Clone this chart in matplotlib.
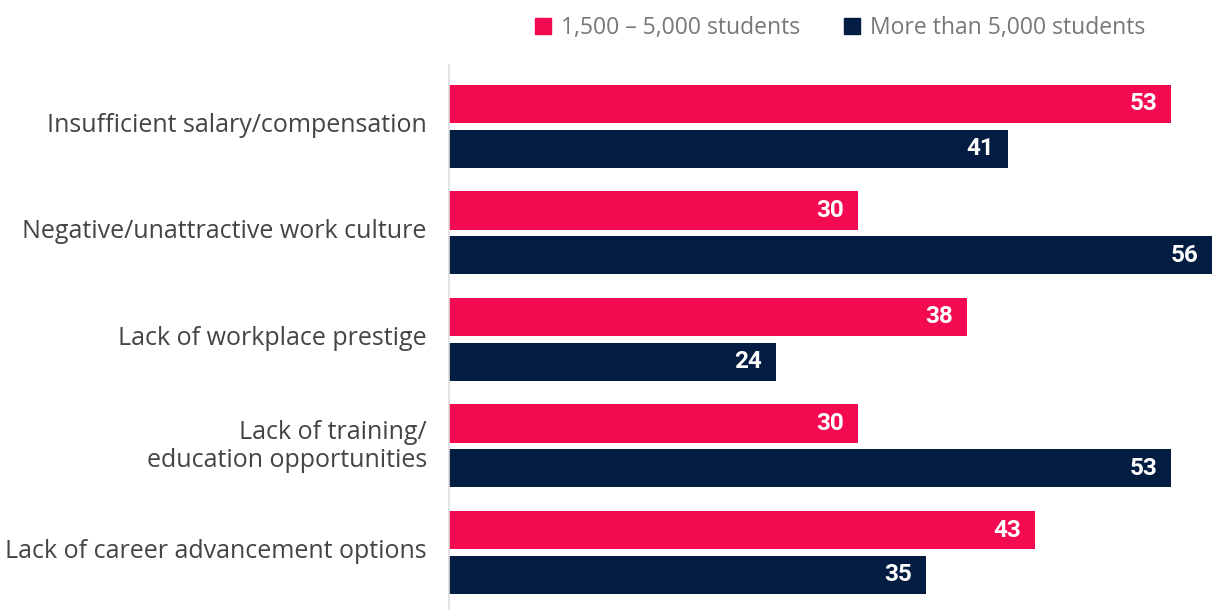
import matplotlib.pyplot as plt
import matplotlib.transforms as mtransforms
from matplotlib.patches import Patch

# reasons for leaving, % of respondents, by institution size
categories = [
    "Insufficient salary/compensation",
    "Negative/unattractive work culture",
    "Lack of workplace prestige",
    "Lack of training/\neducation opportunities",
    "Lack of career advancement options",
]
small_inst = [53, 30, 38, 30, 43]
large_inst = [41, 56, 24, 53, 35]
series_names = ["1,500 – 5,000 students", "More than 5,000 students"]

PINK = "#F40A51"
NAVY = "#021C42"

plt.rcParams["font.family"] = ["Open Sans", "DejaVu Sans"]

fig = plt.figure(figsize=(12.22, 6.10), dpi=100)
ax = fig.add_axes([449 / 1222, 0.0, 773 / 1222, 545 / 610])

bar_h = 0.357
offset = 0.211
ypos = list(range(len(categories)))

bars_a = ax.barh([y - offset for y in ypos], small_inst, height=bar_h, color=PINK)
bars_b = ax.barh([y + offset for y in ypos], large_inst, height=bar_h, color=NAVY)

for bars, vals in ((bars_a, small_inst), (bars_b, large_inst)):
    for rect, v in zip(bars, vals):
        ax.annotate(str(v), xy=(v, rect.get_y() + rect.get_height() / 2),
                    xytext=(-10, 0), textcoords="offset points",
                    ha="right", va="center", color="white",
                    fontsize=17.5, fontweight="bold",
                    family=["Roboto", "DejaVu Sans"])

ax.set_xlim(0, 773 / 13.625)
ax.set_ylim(4.54, -0.577)
ax.set_yticks(ypos)
ax.tick_params(axis="y", length=0, pad=16)
ax.set_yticklabels(categories, fontsize=18, color="#444444", linespacing=1.18)
# nudge category labels up a little
shift = mtransforms.ScaledTranslation(0, 3 / 72, fig.dpi_scale_trans)
for lbl in ax.get_yticklabels():
    lbl.set_transform(lbl.get_transform() + shift)
ax.set_xticks([])
for side in ("top", "right", "bottom"):
    ax.spines[side].set_visible(False)
ax.spines["left"].set_color("#DDDDDD")
ax.spines["left"].set_linewidth(1.2)

handles = [Patch(color=PINK), Patch(color=NAVY)]
leg = fig.legend(handles, series_names, ncol=2, frameon=False,
                 loc="upper right", bbox_to_anchor=(1166 / 1222, 1.008),
                 fontsize=16.5, handlelength=0.7, handleheight=0.7,
                 handletextpad=0.45, columnspacing=1.9)
for t in leg.get_texts():
    t.set_color("#777777")

fig.savefig("out.png", dpi=100)
